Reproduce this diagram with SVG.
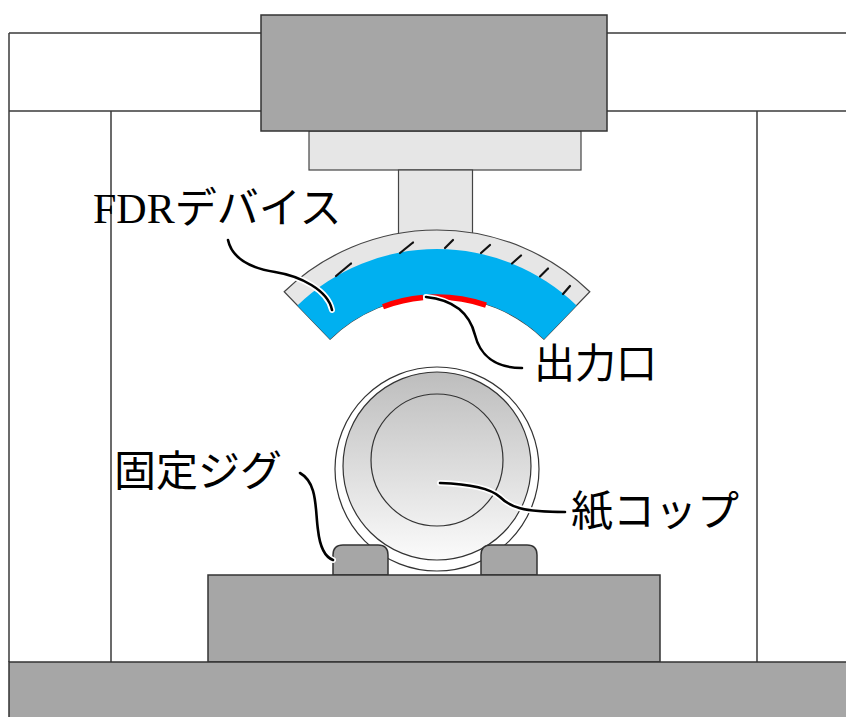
<svg xmlns="http://www.w3.org/2000/svg" width="846" height="717" viewBox="0 0 846 717">
  <defs>
    <linearGradient id="cupFill" x1="0" y1="0" x2="0" y2="1">
      <stop offset="0" stop-color="#bdbdbd"/>
      <stop offset="1" stop-color="#fbfbfb"/>
    </linearGradient>
    <style>
      .frame { fill: none; stroke: #3a3a3a; stroke-width: 1.5; }
      .block { fill: #a6a6a6; stroke: #333; stroke-width: 1.5; }
      .light { fill: #e6e6e6; stroke: #444; stroke-width: 1.2; }
      .tick { stroke: #111; stroke-width: 2.2; stroke-linecap: round; }
      .halo { fill: none; stroke: #fff; stroke-width: 6; stroke-linecap: round; }
      .lead { fill: none; stroke: #000; stroke-width: 2.6; stroke-linecap: round; }
      .label { font-family: "Noto Sans CJK JP", "Noto Sans", sans-serif; fill: #000; }
      .latin { font-family: "Liberation Serif", "DejaVu Serif", serif; }
    </style>
  </defs>

  <rect width="846" height="717" fill="#fff"/>

  <!-- machine frame -->
  <g id="frame">
    <line class="frame" x1="9" y1="33" x2="846" y2="33" stroke="#777"/>
    <line class="frame" x1="9" y1="111" x2="846" y2="111" stroke-width="2"/>
    <line class="frame" x1="9" y1="33" x2="9" y2="662"/>
    <line class="frame" x1="111" y1="111" x2="111" y2="662"/>
    <line class="frame" x1="757" y1="111" x2="757" y2="662"/>
  </g>

  <!-- crosshead, adapter plate and stem -->
  <g id="crosshead">
    <rect class="light" x="309" y="131" width="272" height="39"/>
    <rect class="light" x="398.5" y="170" width="74" height="70"/>
    <rect class="block" x="261" y="15" width="346" height="116"/>
  </g>

  <!-- FDR device: curved sensor with graduated holder -->
  <g id="fdr-device">
    <path class="light" d="M284.2,291.7 A220,220 0 0 1 589.8,291.7 L544,339.2 A154,154 0 0 0 330,339.2 Z"/>
    <path fill="#00b0f0" d="M297.4,305.4 A201,201 0 0 1 576.6,305.4 L544,339.2 A154,154 0 0 0 330,339.2 Z"/>
    <line class="tick" x1="336" y1="276" x2="351" y2="263.5"/>
    <line class="tick" x1="400" y1="253" x2="413" y2="242.5"/>
    <line class="tick" x1="445" y1="248" x2="453" y2="240"/>
    <line class="tick" x1="481" y1="253" x2="490" y2="245"/>
    <line class="tick" x1="512" y1="263.5" x2="521" y2="255.5"/>
    <line class="tick" x1="540" y1="276.5" x2="548" y2="268.5"/>
    <line class="tick" x1="563" y1="294" x2="570" y2="286"/>
  </g>

  <!-- output ports -->
  <g id="output-port">
    <path d="M383,306.8 A153,153 0 0 1 423,297.6" fill="none" stroke="#ff0000" stroke-width="5.5"/>
    <path d="M428,297.3 A153,153 0 0 1 486,305.1" fill="none" stroke="#ff0000" stroke-width="5.5"/>
  </g>

  <!-- paper cup -->
  <g id="paper-cup">
    <circle cx="437" cy="469" r="102" fill="#fff" stroke="#333" stroke-width="1.2"/>
    <circle cx="437" cy="466" r="94" fill="url(#cupFill)" stroke="#333" stroke-width="1.2"/>
    <circle cx="437" cy="460" r="66" fill="none" stroke="#333" stroke-width="1.2"/>
  </g>

  <!-- fixing jigs -->
  <g id="jig">
    <path class="block" d="M333,575 V555 Q333,545 343,545 H378 Q388,545 388,555 V575 Z"/>
    <path class="block" d="M481,575 V555 Q481,545 491,545 H527 Q537,545 537,555 V575 Z"/>
  </g>

  <!-- stage and base -->
  <g id="stage">
    <rect class="block" x="208" y="575" width="452" height="87"/>
  </g>
  <g id="base">
    <rect class="block" x="9" y="662" width="840" height="60"/>
  </g>

  <!-- leader lines -->
  <g id="connectors">
    <path class="halo" d="M228,240 C232,258 250,268 275,272 C300,276 328,290 332,310"/>
    <path class="lead" d="M228,240 C232,258 250,268 275,272 C300,276 328,290 332,310"/>
    <path class="halo" d="M426,297 C455,300 470,315 475,335 C480,355 495,368 522,368"/>
    <path class="lead" d="M426,297 C455,300 470,315 475,335 C480,355 495,368 522,368"/>
    <path class="halo" d="M300,473 C318,483 315,510 318,530 C320,548 325,557 333,560"/>
    <path class="lead" d="M300,473 C318,483 315,510 318,530 C320,548 325,557 333,560"/>
    <path class="halo" d="M440,483 C470,484 490,488 500,497 C510,507 522,512 565,512"/>
    <path class="lead" d="M440,483 C470,484 490,488 500,497 C510,507 522,512 565,512"/>
  </g>

  <!-- labels -->
  <g id="labels">
    <text class="label" x="93" y="223" style="font-size:42px"><tspan class="latin">FDR</tspan><tspan>デバイス</tspan></text>
    <text class="label" x="534" y="378" style="font-size:41px">出力口</text>
    <text class="label" x="114" y="486" style="font-size:42px">固定ジグ</text>
    <text class="label" x="571" y="526" style="font-size:42px">紙コップ</text>
  </g>
</svg>
